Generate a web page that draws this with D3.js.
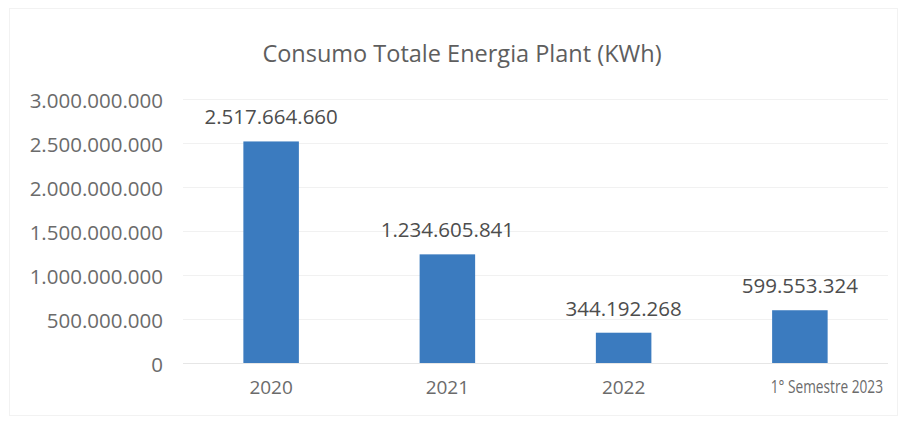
<!DOCTYPE html>
<html>
<head>
<meta charset="utf-8">
<script src="https://cdn.jsdelivr.net/npm/d3@7"></script>
<style>
  html, body { margin: 0; padding: 0; background: #fff; }
  svg { display: block; }
  text { font-family: "Open Sans", sans-serif; }
</style>
</head>
<body>
<svg id="chart" width="902" height="421"></svg>
<script>
// Energy consumption per period (kWh)
const categories = ["2020", "2021", "2022", "1° Semestre 2023"];
const values = [2517664660, 1234605841, 344192268, 599553324];
const yTicks = [0, 500000000, 1000000000, 1500000000, 2000000000, 2500000000, 3000000000];
const title = "Consumo Totale Energia Plant (KWh)";

const svg = d3.select("#chart");
const W = 902, H = 421;

// Italian-style thousands separator
const fmt = d3.formatLocale({ decimal: ",", thousands: ".", grouping: [3], currency: ["€", ""] }).format(",");

const x = d3.scaleBand()
  .domain(categories)
  .range([183, 888])
  .paddingInner(0.685)
  .paddingOuter(0.3425);

const y = d3.scaleLinear()
  .domain([0, 3000000000])
  .range([363, 99]);

// faint chart frame
svg.append("rect")
  .attr("x", 9.5).attr("y", 8.5)
  .attr("width", W - 14).attr("height", H - 14)
  .attr("fill", "none").attr("stroke", "#f2f2f2");

// gridlines
svg.append("g")
  .selectAll("line")
  .data(yTicks)
  .join("line")
  .attr("x1", 183).attr("x2", 888)
  .attr("y1", d => Math.round(y(d)) + 0.5).attr("y2", d => Math.round(y(d)) + 0.5)
  .attr("stroke", d => d === 0 ? "#e6e6e6" : "#f1f1f1")
  .attr("stroke-width", 1);

// y axis labels
const yAxis = d3.axisLeft(y).tickValues(yTicks).tickFormat(d => fmt(d)).tickSize(0).tickPadding(0);
const yg = svg.append("g").attr("transform", "translate(163,2)").call(yAxis);
yg.select(".domain").remove();
yg.selectAll("text")
  .attr("fill", "#6b6b6b")
  .style("font-size", "20.5px");

// x axis labels
const xAxis = d3.axisBottom(x).tickSize(0).tickPadding(0);
const xg = svg.append("g").attr("transform", "translate(0,380)").call(xAxis);
xg.select(".domain").remove();
xg.selectAll("text")
  .attr("fill", "#6b6b6b")
  .style("font-size", "19px");
// the long half-year label is set condensed and sits right of its bar
xg.selectAll("text")
  .filter(d => d === categories[3])
  .attr("x", null)
  .attr("transform", "translate(27,0) scale(0.74,1)")
  .style("font-size", "18.5px");

// bars
svg.append("g")
  .selectAll("rect")
  .data(values)
  .join("rect")
  .attr("x", (d, i) => x(categories[i]))
  .attr("width", x.bandwidth())
  .attr("y", d => y(d))
  .attr("height", d => y(0) - y(d))
  .attr("fill", "#3b7bbf");

// value labels
svg.append("g")
  .selectAll("text")
  .data(values)
  .join("text")
  .attr("x", (d, i) => x(categories[i]) + x.bandwidth() / 2)
  .attr("y", d => y(d) - 17)
  .attr("text-anchor", "middle")
  .attr("fill", "#4d4d4d")
  .style("font-size", "20.5px")
  .text(d => fmt(d));

// title
svg.append("text")
  .attr("x", 462)
  .attr("y", 62)
  .attr("text-anchor", "middle")
  .attr("fill", "#5e5e5e")
  .style("font-size", "23.5px")
  .text(title);
</script>
</body>
</html>
